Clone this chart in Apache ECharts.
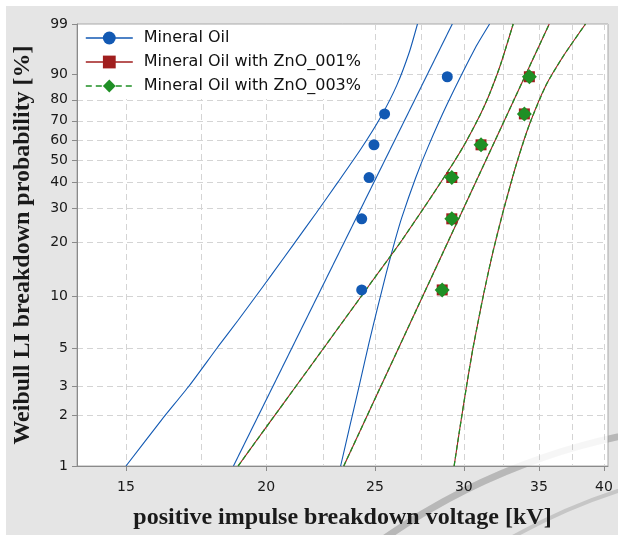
<!DOCTYPE html>
<html><head><meta charset="utf-8">
<script src="https://cdn.jsdelivr.net/npm/echarts@6/dist/echarts.min.js"></script>
<style>html,body{margin:0;padding:0;background:#fff}#c{width:618px;height:535px}</style>
</head><body><div id="c"></div>
<script>
// ---------------- data ----------------
const xTickLabels = [15, 20, 25, 30, 35, 40];                       // kV
const xGridValues = [15, 17.5, 20, 22.5, 25, 27.5, 30, 32.5, 35, 37.5, 40];
const yTickLabels = [1, 2, 3, 5, 10, 20, 30, 40, 50, 60, 70, 80, 90, 99]; // %
const xRange = [13.565, 40.33];   // kV
const yRange = [1, 99];           // %

const seriesNames = ['Mineral Oil', 'Mineral Oil with ZnO_001%', 'Mineral Oil with ZnO_003%'];

// plotted points (median ranks)
const rankP = [10.9, 26.6, 42.2, 57.8, 73.4, 89.1];
const moV   = [24.33, 24.33, 24.7, 24.95, 25.5, 29.0];
const z1V   = [28.7, 29.27, 29.27, 31.08, 33.97, 34.32];
const z3V   = [28.7, 29.27, 29.27, 31.08, 33.97, 34.32];

// Mineral Oil: fit line and confidence bounds
const moFitV = [18.7, 29.3];
const moFitP = [1, 99];
const moLoV = [15.0, 16.15, 17.07, 18.11, 18.88, 19.55, 20.21, 21.14, 22.16, 23.18, 24.32, 25.30, 26.15, 26.83, 27.28];
const moLoP = [1, 1.9, 3.0, 5.1, 7.3, 9.9, 13.2, 19.4, 28.5, 40.3, 56.2, 71.9, 86.1, 95.6, 99];
const moHiV = [23.3, 23.73, 24.23, 24.7, 25.11, 25.59, 26.06, 26.41, 27.18, 27.86, 29.01, 30.73, 31.63];
const moHiP = [1, 1.7, 3.1, 5.4, 8.4, 13.6, 20.6, 26.9, 42.1, 56.4, 78.3, 96.4, 99];

// ZnO_001% : fit line and bounds
const z1FitV = [23.45, 35.75];
const z1FitP = [1, 99];
const z1LoV = [18.88, 19.62, 20.21, 21.14, 22.34, 23.22, 24.28, 24.90, 25.93, 26.43, 27.48, 28.13, 29.40, 30.13, 31.02, 31.60, 32.34, 33.20];
const z1LoP = [1, 1.43, 1.88, 2.84, 4.70, 6.67, 9.93, 12.40, 17.51, 20.59, 28.81, 34.96, 49.32, 59.22, 72.86, 82.10, 92.63, 99];
const z1HiV = [29.41, 29.77, 30.16, 30.55, 30.88, 31.26, 31.83, 32.46, 33.40, 34.31, 35.52, 36.85, 38.51];
const z1HiP = [1, 1.71, 2.96, 4.90, 7.04, 10.47, 17.51, 27.82, 47.90, 67.87, 86.14, 95.00, 99];

// ZnO_003% : fit line and bounds (coincide with ZnO_001%)
const z3FitV = [23.45, 35.75];
const z3FitP = [1, 99];
const z3LoV = [18.88, 19.62, 20.21, 21.14, 22.34, 23.22, 24.28, 24.90, 25.93, 26.43, 27.48, 28.13, 29.40, 30.13, 31.02, 31.60, 32.34, 33.20];
const z3LoP = [1, 1.43, 1.88, 2.84, 4.70, 6.67, 9.93, 12.40, 17.51, 20.59, 28.81, 34.96, 49.32, 59.22, 72.86, 82.10, 92.63, 99];
const z3HiV = [29.41, 29.77, 30.16, 30.55, 30.88, 31.26, 31.83, 32.46, 33.40, 34.31, 35.52, 36.85, 38.51];
const z3HiP = [1, 1.71, 2.96, 4.90, 7.04, 10.47, 17.51, 27.82, 47.90, 67.87, 86.14, 95.00, 99];

// ---------------- Weibull plot scales ----------------
const tx = v => Math.log(v);                          // log voltage
const ty = p => Math.log(-Math.log(1 - p / 100));     // Weibull probability
const fx = t => Math.round(Math.exp(t));
const fy = t => Math.round((1 - Math.exp(-Math.exp(t))) * 100);
const pairs = (V, P) => V.map((v, i) => [tx(v), ty(P[i])]);

const BLUE = '#1259b3', RED = '#a01e1e', GREEN = '#1f8f25';
const sansFont = 'DejaVu Sans';
const serifFont = 'Liberation Serif';

function lineSeries(name, V, P, color, dashed, z) {
  return {
    name, type: 'line', data: pairs(V, P), symbol: 'none', showSymbol: false,
    silent: true, z, clip: true, smooth: 0.2,
    lineStyle: { color, width: dashed ? 1.3 : 1.1, type: dashed ? [5, 3] : 'solid' }
  };
}
function pointSeries(name, V, P, color, symbol, size, z) {
  return {
    name, type: 'line', data: pairs(V, P), symbol, symbolSize: size, showSymbol: true,
    showAllSymbol: true, silent: true, z,
    itemStyle: { color, opacity: 1 },
    lineStyle: { color, opacity: 0, width: 1 }
  };
}

const chart = echarts.init(document.getElementById('c'), null, { renderer: 'canvas' });
chart.setOption({
  animation: false,
  backgroundColor: '#e5e5e5',
  graphic: [
    { type: 'rect', silent: true, z: -20, shape: { x: 0, y: 0, width: 618, height: 6 }, style: { fill: '#fff' } },
    { type: 'rect', silent: true, z: -20, shape: { x: 0, y: 0, width: 6, height: 535 }, style: { fill: '#fff' } },
    { type: 'arc', silent: true, z: -10, shape: { cx: 750, cy: 1060, r: 637, startAngle: -2.2, endAngle: -1.6 }, style: { stroke: '#bfbfbf', lineWidth: 7, fill: null } },
    { type: 'arc', silent: true, z: -10, shape: { cx: 800, cy: 1050, r: 588, startAngle: -2.1, endAngle: -1.75 }, style: { stroke: '#c6c6c6', lineWidth: 4, fill: null } },
    { type: 'arc', silent: true, z: 100, shape: { cx: 750, cy: 1060, r: 637, startAngle: -2.2, endAngle: -1.6 }, style: { stroke: 'rgba(0,0,0,0.035)', lineWidth: 7, fill: null } }
  ],
  grid: {
    left: 77, right: 10, top: 24, bottom: 69,
    show: true, backgroundColor: '#ffffff', borderColor: '#a8a8a8', borderWidth: 1,
    containLabel: false, outerBoundsMode: 'none'
  },
  legend: {
    data: seriesNames.map((n, i) => ({
      name: n,
      lineStyle: { color: [BLUE, RED, GREEN][i], width: 1.6, opacity: 1, type: i === 2 ? [6, 4] : 'solid' }
    })),
    orient: 'vertical', left: 78, top: 25,
    itemWidth: 47, itemHeight: 16, itemGap: 8,
    padding: [5, 10, 5, 7],
    backgroundColor: '#ffffff',
    selectedMode: false,
    textStyle: { fontFamily: sansFont, fontSize: 16, color: '#111', padding: [0, 0, 0, 6] }
  },
  xAxis: [
    {
      type: 'value', min: tx(xRange[0]), max: tx(xRange[1]), position: 'bottom',
      axisLine: { show: true, onZero: false, lineStyle: { color: '#8a8a8a', width: 1 } },
      axisTick: { show: true, length: 5, customValues: xTickLabels.map(tx), lineStyle: { color: '#8a8a8a' } },
      axisLabel: { customValues: xTickLabels.map(tx), formatter: v => String(fx(v)), margin: 14,
                   fontFamily: sansFont, fontSize: 14, color: '#1a1a1a' },
      splitLine: { show: false },
      name: 'positive impulse breakdown voltage [kV]', nameLocation: 'middle', nameGap: 40,
      nameTextStyle: { fontFamily: serifFont, fontWeight: 'bold', fontSize: 24, color: '#1a1a1a' }
    },
    {
      type: 'value', min: tx(xRange[0]), max: tx(xRange[1]), position: 'top',
      axisLine: { show: false }, axisLabel: { show: false },
      axisTick: { show: false, customValues: xGridValues.map(tx) },
      splitLine: { show: true, lineStyle: { color: '#d4d4d4', width: 1, type: [6, 4] } }
    }
  ],
  yAxis: {
    type: 'value', min: ty(yRange[0]), max: ty(yRange[1]),
    axisLine: { show: true, onZero: false, lineStyle: { color: '#8a8a8a', width: 1 } },
    axisTick: { show: true, length: 5, customValues: yTickLabels.map(ty), lineStyle: { color: '#8a8a8a' } },
    axisLabel: { customValues: yTickLabels.map(ty), formatter: v => String(fy(v)), margin: 9,
                 fontFamily: sansFont, fontSize: 14, color: '#1a1a1a' },
    splitLine: { show: true, lineStyle: { color: '#d4d4d4', width: 1, type: [6, 4] } },
    name: 'Weibull LI breakdown probability [%]', nameLocation: 'middle', nameGap: 42,
    nameTextStyle: { fontFamily: serifFont, fontWeight: 'bold', fontSize: 24, color: '#1a1a1a' }
  },
  series: [
    lineSeries('mo-lo', moLoV, moLoP, BLUE, false, 2),
    lineSeries('mo-fit', moFitV, moFitP, BLUE, false, 2),
    lineSeries('mo-hi', moHiV, moHiP, BLUE, false, 2),
    lineSeries('z1-lo', z1LoV, z1LoP, RED, false, 3),
    lineSeries('z1-fit', z1FitV, z1FitP, RED, false, 3),
    lineSeries('z1-hi', z1HiV, z1HiP, RED, false, 3),
    lineSeries('z3-lo', z3LoV, z3LoP, GREEN, true, 4),
    lineSeries('z3-fit', z3FitV, z3FitP, GREEN, true, 4),
    lineSeries('z3-hi', z3HiV, z3HiP, GREEN, true, 4),
    pointSeries(seriesNames[0], moV, rankP, BLUE, 'circle', 11, 10),
    pointSeries(seriesNames[1], z1V, rankP, RED, 'rect', 11, 11),
    pointSeries(seriesNames[2], z3V, rankP, GREEN, 'diamond', 15, 12)
  ]
});
</script>
</body></html>
